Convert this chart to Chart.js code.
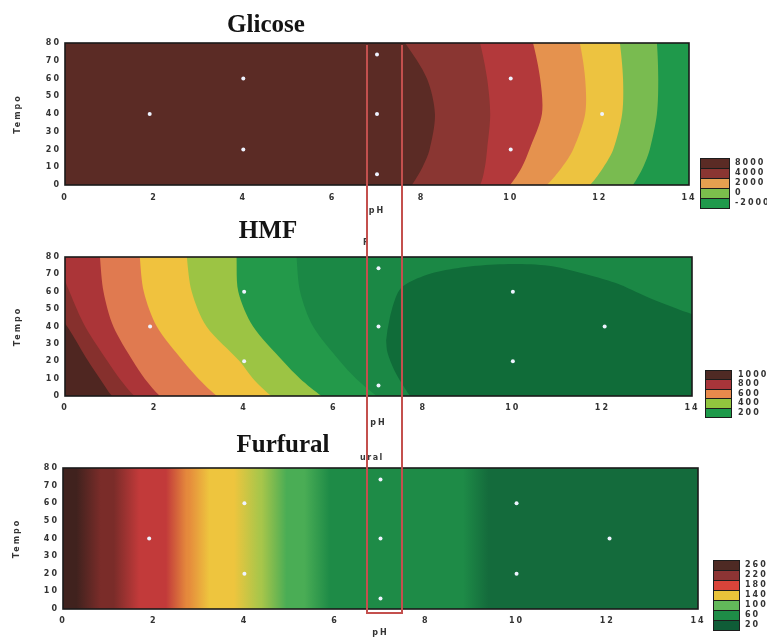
<!DOCTYPE html>
<html>
<head>
<meta charset="utf-8">
<script src="https://cdn.jsdelivr.net/npm/chart.js@4.4.1/dist/chart.umd.min.js"></script>
<style>
  html, body { margin: 0; padding: 0; background: #fff; }
  body { width: 767px; height: 639px; position: relative; overflow: hidden; font-family: "DejaVu Sans", sans-serif; }
  canvas { position: absolute; left: 0; }
  .title { position: absolute; font-family: "Liberation Serif", "Times New Roman", serif; font-weight: bold;
           font-size: 25px; line-height: 25px; color: #141414; transform: translateX(-50%); white-space: nowrap; z-index: 3; }
  .note { position: absolute; font: bold 8px "DejaVu Sans", sans-serif; letter-spacing: 1.5px; color: #3a3a3a; z-index: 3; white-space: nowrap; }
  .sw { position: absolute; box-sizing: border-box; border: 1px solid #1c1c1c; z-index: 3; }
  .kl { position: absolute; font: bold 8px "DejaVu Sans", sans-serif; letter-spacing: 2px; color: #333; z-index: 3; white-space: nowrap; line-height: 10px; }
  #zone { position: absolute; left: 366px; top: 45px; width: 37px; height: 569px; box-sizing: border-box;
          border: 2px solid #c4504e; border-top: none; z-index: 4; }
</style>
</head>
<body>
<canvas id="cGlicose" width="767" height="217" style="top:0px"></canvas>
<canvas id="cHmf" width="767" height="212" style="top:217px"></canvas>
<canvas id="cFurfural" width="767" height="210" style="top:429px"></canvas>

<div class="title" style="left:266px; top:11px">Glicose</div>
<div class="title" style="left:268px; top:217px">HMF</div>
<div class="title" style="left:283px; top:431px">Furfural</div>
<div class="note" style="left:363px; top:238px">F</div>
<div class="note" style="left:360px; top:453px">ural</div>
<div id="zone"></div>

<script>
// ---- axes ----
const phTicks = [0, 2, 4, 6, 8, 10, 12, 14];
const tempoTicks = [0, 10, 20, 30, 40, 50, 60, 70, 80];

// experimental design points (pH, tempo)
const designPoints = [[1.9, 40], [4, 60], [4, 20], [7, 73.5], [7, 40], [7, 6], [10, 60], [10, 20], [12.05, 40]];

// ---- Glicose: pH of each iso-line at these tempo values ----
const glicoseTempo = [-10, 0, 10, 20, 40, 60, 80, 90];
const glicoseEdge1 = [7.45, 7.78, 8.02, 8.18, 8.30, 8.12, 7.63, 7.30];
const glicoseEdge2 = [8.95, 9.31, 9.42, 9.47, 9.54, 9.47, 9.31, 9.15];
const glicoseEdge3 = [9.50, 9.98, 10.25, 10.42, 10.70, 10.66, 10.50, 10.35];
const glicoseEdge4 = [10.30, 10.81, 11.15, 11.40, 11.67, 11.67, 11.55, 11.42];
const glicoseEdge5 = [11.30, 11.78, 12.08, 12.30, 12.50, 12.52, 12.45, 12.38];
const glicoseEdge6 = [12.40, 12.74, 12.97, 13.12, 13.28, 13.31, 13.28, 13.22];
const glicoseKeyLabels = ['8000', '4000', '2000', '0', '-2000'];

// ---- HMF ----
const hmfTempo = [-10, 0, 10, 20, 40, 60, 80, 90];
const hmfEdge0 = [1.45, 1.05, 0.78, 0.52, 0.05, -0.50, -1.10, -1.40];
const hmfEdge1 = [2.00, 1.55, 1.22, 0.95, 0.45, 0.10, -0.20, -0.30];
const hmfEdge2 = [2.60, 2.12, 1.78, 1.52, 1.08, 0.86, 0.78, 0.76];
const hmfEdge3 = [3.90, 3.39, 2.98, 2.64, 2.05, 1.76, 1.67, 1.65];
const hmfEdge4 = [5.20, 4.61, 4.20, 3.90, 3.16, 2.83, 2.72, 2.70];
const hmfEdge5 = [6.30, 5.73, 5.25, 4.87, 4.20, 3.87, 3.83, 3.82];
const hmfEdge6 = [7.50, 6.96, 6.50, 6.14, 5.54, 5.25, 5.17, 5.15];
// closed minimum zone (pH, tempo)
const hmfCore = [[7.20, 38], [7.30, 50], [7.50, 62], [8.00, 69], [8.50, 72.5], [9.20, 75], [10.0, 76],
                 [10.8, 75], [11.5, 71], [12.3, 65], [13.0, 57], [13.9, 48], [14.6, 42], [16, 35],
                 [16, -15], [8.3, -15], [7.8, -3], [7.6, 4], [7.35, 15], [7.2, 25], [7.17, 32]];
const hmfKeyLabels = ['1000', '800', '600', '400', '200'];

// ---- Furfural: near-vertical iso-lines (pH) ----
const furfuralEdges = [0.55, 1.40, 2.55, 2.95, 4.05, 4.65, 5.60, 9.10];
const furfuralKeyLabels = ['260', '220', '180', '140', '100', '60', '20'];

// ---- palettes ----
const glicoseBandColors = ['#1f994b', '#79bb50', '#edc340', '#e5924e', '#b3393b', '#8a3632', '#5b2b25'];
const glicoseKeyColors = ['#5b2b25', '#8a3632', '#e5a050', '#7cbf4c', '#1f994b'];
const hmfBandColors = ['#1b8845', '#23994a', '#9cc444', '#f0c23e', '#e07a50', '#ab3538', '#86302d', '#4f2621'];
const hmfCoreColor = '#106c39';
const hmfKeyColors = ['#4f2a24', '#a8353a', '#e88a4c', '#92c53e', '#1e9a4a'];
const furfuralBandColors = ['#40221e', '#7a2c29', '#c23a3a', '#e58a3c', '#eec53e', '#a9c64a', '#4aad55', '#1e8b47', '#146b3c'];
const furfuralKeyColors = ['#4e2a24', '#8c3434', '#d8443a', '#e8c33a', '#62b95a', '#1e8c47', '#0f5c37'];

const tickFont = { family: '"DejaVu Sans", sans-serif', size: 8, weight: 'bold' };

// ---- helpers ----
const toXY = arr => arr.map(([x, y]) => ({ x, y }));

function leftOfEdge(tempos, edge) {
  // area on the low-pH side of an iso-line, closed outside the plot frame
  const pts = [{ x: -4, y: tempos[tempos.length - 1] }, { x: -4, y: tempos[0] }];
  tempos.forEach((t, i) => pts.push({ x: edge[i], y: t }));
  return pts;
}
const wholeField = [{ x: -4, y: -20 }, { x: -4, y: 100 }, { x: 18, y: 100 }, { x: 18, y: -20 }];

function layer(points, color, order, tension) {
  return {
    type: 'line', data: points, indexAxis: 'y', showLine: true, fill: 'shape',
    backgroundColor: color, borderColor: 'rgba(0,0,0,0)', borderWidth: 0,
    pointRadius: 0, pointHoverRadius: 0, tension: tension, order: order
  };
}
function designLayer() {
  return {
    type: 'scatter', data: toXY(designPoints), order: 0,
    pointRadius: 2, pointHoverRadius: 2, pointBackgroundColor: '#eef3ff', pointBorderWidth: 0
  };
}

// frame around the plotting area
const frame = {
  id: 'frame',
  afterDatasetsDraw(chart) {
    const { ctx, chartArea: a } = chart;
    ctx.save();
    ctx.strokeStyle = '#1a1a1a';
    ctx.lineWidth = 1.6;
    ctx.strokeRect(a.left, a.top, a.right - a.left, a.bottom - a.top);
    ctx.restore();
  }
};
const spacedText = {
  id: 'spacedText',
  beforeDraw(chart) { chart.ctx.letterSpacing = '2px'; },
  afterDraw(chart) { chart.ctx.letterSpacing = '0px'; }
};

function panelOptions(box) {
  return {
    responsive: false, animation: false, events: [],
    layout: { padding: { top: box.top, left: 0, right: box.right, bottom: 0 } },
    plugins: { legend: { display: false }, tooltip: { enabled: false } },
    elements: { line: { capBezierPoints: false } },
    scales: {
      x: {
        type: 'linear', min: 0, max: 14,
        afterBuildTicks: s => { s.ticks = phTicks.map(v => ({ value: v })); },
        afterFit: s => { s.height = box.xh; },
        grid: { display: false, drawTicks: false }, border: { display: false },
        ticks: { padding: box.xpad, font: tickFont, color: '#333', maxRotation: 0, autoSkip: false },
        title: { display: true, text: 'pH', font: tickFont, color: '#333', padding: { top: 0, bottom: 1 } }
      },
      y: {
        type: 'linear', min: 0, max: 80,
        afterBuildTicks: s => { s.ticks = tempoTicks.map(v => ({ value: v })); },
        afterFit: s => { s.width = box.yw; },
        grid: { display: false, drawTicks: false }, border: { display: false },
        ticks: { padding: 4, font: tickFont, color: '#333', autoSkip: false },
        title: { display: true, text: 'Tempo', font: tickFont, color: '#333', padding: { top: box.ytp, bottom: 0 } }
      }
    }
  };
}

// ---- Glicose ----
{
  const edges = [glicoseEdge6, glicoseEdge5, glicoseEdge4, glicoseEdge3, glicoseEdge2, glicoseEdge1];
  const datasets = [layer(wholeField, glicoseBandColors[0], 100, 0)];
  edges.forEach((e, i) => datasets.push(layer(leftOfEdge(glicoseTempo, e), glicoseBandColors[i + 1], 99 - i, 0.3)));
  datasets.push(designLayer());
  new Chart(document.getElementById('cGlicose'), {
    type: 'scatter', data: { datasets },
    options: panelOptions({ top: 43, right: 78, yw: 65, xh: 32, xpad: 8, ytp: 13 }),
    plugins: [frame, spacedText]
  });
}

// ---- HMF ----
{
  const edges = [hmfEdge6, hmfEdge5, hmfEdge4, hmfEdge3, hmfEdge2, hmfEdge1, hmfEdge0];
  const datasets = [layer(wholeField, hmfBandColors[0], 100, 0)];
  edges.forEach((e, i) => datasets.push(layer(leftOfEdge(hmfTempo, e), hmfBandColors[i + 1], 99 - i, 0.3)));
  datasets.push(layer(toXY(hmfCore), hmfCoreColor, 50, 0.3));
  datasets.push(designLayer());
  new Chart(document.getElementById('cHmf'), {
    type: 'scatter', data: { datasets },
    options: panelOptions({ top: 40, right: 75, yw: 65, xh: 33, xpad: 7.5, ytp: 13 }),
    plugins: [frame, spacedText]
  });
}

// ---- Furfural: bands blend into each other ----
{
  function furfuralShade(ctx) {
    const chart = ctx.chart;
    const xs = chart.scales.x;
    if (!chart.chartArea || !xs) return furfuralBandColors[4];
    const p0 = xs.getPixelForValue(0), p1 = xs.getPixelForValue(14);
    const g = chart.ctx.createLinearGradient(p0, 0, p1, 0);
    const bounds = [0].concat(furfuralEdges, [14]);
    let last = 0;
    const stop = (v, c) => {
      const f = Math.min(1, Math.max(last, (xs.getPixelForValue(v) - p0) / (p1 - p0)));
      g.addColorStop(f, c); last = f;
    };
    for (let i = 0; i < bounds.length - 1; i++) {
      const lo = bounds[i], hi = bounds[i + 1];
      const soft = Math.min(0.28, (hi - lo) / 2 - 0.02);
      stop(i === 0 ? lo : lo + soft, furfuralBandColors[i]);
      stop(i === bounds.length - 2 ? hi : hi - soft, furfuralBandColors[i]);
    }
    return g;
  }
  const datasets = [layer(wholeField, furfuralShade, 100, 0), designLayer()];
  new Chart(document.getElementById('cFurfural'), {
    type: 'scatter', data: { datasets },
    options: panelOptions({ top: 39, right: 69, yw: 63, xh: 30, xpad: 7, ytp: 12 }),
    plugins: [frame, spacedText]
  });
}

// ---- colour keys ----
function colourKey(labels, colors, left, top, w, h, textLeft) {
  labels.forEach((lab, i) => {
    const sw = document.createElement('div');
    sw.className = 'sw';
    sw.style.cssText = `left:${left}px;top:${top + i * h}px;width:${w}px;height:${h + 1}px;background:${colors[i]}`;
    document.body.appendChild(sw);
    const t = document.createElement('div');
    t.className = 'kl';
    t.textContent = lab;
    t.style.cssText = `left:${textLeft}px;top:${top + i * h}px`;
    document.body.appendChild(t);
  });
}
colourKey(glicoseKeyLabels, glicoseKeyColors, 700, 158, 30, 10, 735);
colourKey(hmfKeyLabels, hmfKeyColors, 705, 370, 27, 9.4, 738);
colourKey(furfuralKeyLabels, furfuralKeyColors, 713, 560, 27, 10, 745);
</script>
</body>
</html>
